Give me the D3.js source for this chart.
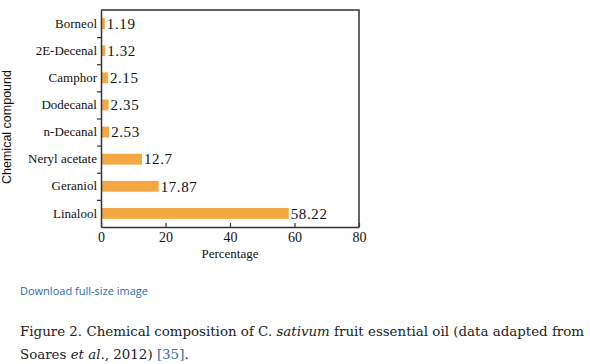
<!DOCTYPE html>
<html>
<head>
<meta charset="utf-8">
<script src="https://cdn.jsdelivr.net/npm/d3@7"></script>
<style>
  body { margin: 0; background: #fff; }
  svg { display: block; }
  .ax text { font-family: "Liberation Serif", "Times New Roman", serif; }
</style>
</head>
<body>
<svg id="chart" width="590" height="364"></svg>
<script>
// compounds top to bottom, percentages
const compounds = ["Borneol", "2E-Decenal", "Camphor", "Dodecanal", "n-Decanal", "Neryl acetate", "Geraniol", "Linalool"];
const percents = [1.19, 1.32, 2.15, 2.35, 2.53, 12.7, 17.87, 58.22];
const xTicks = [0, 20, 40, 60, 80];

const svg = d3.select("#chart");
const plotL = 101, plotR = 359, plotT = 10, plotB = 227;
const serif = "Liberation Serif, Times New Roman, serif";

const x = d3.scaleLinear().domain([0, 80]).range([plotL, plotR]);
const y = d3.scaleBand().domain(compounds).range([plotT, plotB])
  .paddingInner(0.6).paddingOuter(0.3);
// used only to put the little ticks between rows
const yEdge = d3.scaleLinear().domain([0, compounds.length]).range([plotT, plotB]);

const bars = compounds.map((c, i) => ({name: c, value: percents[i]}));

svg.selectAll("rect.bar")
  .data(bars)
  .enter()
  .append("rect")
  .attr("class", "bar")
  .attr("x", x(0))
  .attr("y", d => y(d.name))
  .attr("width", d => x(d.value) - x(0))
  .attr("height", y.bandwidth())
  .attr("fill", "#f4a844");

svg.selectAll("text.val")
  .data(bars)
  .enter()
  .append("text")
  .attr("class", "val")
  .attr("x", d => x(d.value) + 2)
  .attr("y", d => y(d.name) + y.bandwidth() / 2)
  .attr("dy", "0.35em")
  .attr("font-family", serif)
  .attr("font-size", 15)
  .attr("letter-spacing", 0.6)
  .attr("fill", "#111")
  .text(d => d.value);

// frame top + right
svg.append("path")
  .attr("d", `M${plotL},${plotT}H${plotR}V${plotB}`)
  .attr("fill", "none")
  .attr("stroke", "#333")
  .attr("stroke-width", 1.5);

// category labels
const yAxis = svg.append("g")
  .attr("class", "ax")
  .attr("transform", `translate(${plotL},0)`)
  .call(d3.axisLeft(y).tickSize(0).tickPadding(4))
  .attr("font-family", serif)
  .attr("font-size", 13);
yAxis.select(".domain").remove();
yAxis.selectAll("text").attr("fill", "#111");

// left axis line with ticks between rows
const yTickAxis = svg.append("g")
  .attr("transform", `translate(${plotL},0)`)
  .call(d3.axisLeft(yEdge).tickValues(d3.range(1, compounds.length)).tickFormat("").tickSizeInner(4).tickSizeOuter(0));
yTickAxis.select(".domain").attr("stroke", "#333").attr("stroke-width", 1.5);
yTickAxis.selectAll(".tick line").attr("stroke", "#333").attr("stroke-width", 1.2);

// bottom axis, ticks pointing inward
const xAxis = svg.append("g")
  .attr("class", "ax")
  .attr("transform", `translate(0,${plotB})`)
  .call(d3.axisBottom(x).tickValues(xTicks).tickSizeInner(-4).tickSizeOuter(0).tickPadding(5))
  .attr("font-family", serif)
  .attr("font-size", 14);
xAxis.select(".domain").attr("stroke", "#333").attr("stroke-width", 1.5);
xAxis.selectAll(".tick line").attr("stroke", "#333").attr("stroke-width", 1.2);
xAxis.selectAll("text").attr("fill", "#111");

svg.append("text")
  .attr("x", (plotL + plotR) / 2)
  .attr("y", 258)
  .attr("text-anchor", "middle")
  .attr("font-family", serif)
  .attr("font-size", 13)
  .attr("fill", "#111")
  .text("Percentage");

svg.append("text")
  .attr("transform", "translate(11,127) rotate(-90)")
  .attr("text-anchor", "middle")
  .attr("font-family", "Liberation Sans, Arial, sans-serif")
  .attr("font-size", 12.5)
  .attr("fill", "#111")
  .text("Chemical compound");

// page text below the figure
svg.append("text")
  .attr("x", 20)
  .attr("y", 295)
  .attr("font-family", "Open Sans, sans-serif")
  .attr("font-size", 11)
  .attr("fill", "#2b6cb0")
  .text("Download full-size image");

const capFont = "DejaVu Serif, serif";
const cap1 = svg.append("text")
  .attr("x", 20)
  .attr("y", 336)
  .attr("font-family", capFont)
  .attr("font-size", 13.4)
  .attr("fill", "#222");
cap1.append("tspan").text("Figure 2. Chemical composition of C. ");
cap1.append("tspan").attr("font-style", "italic").text("sativum");
cap1.append("tspan").text(" fruit essential oil (data adapted from");

const cap2 = svg.append("text")
  .attr("x", 20)
  .attr("y", 359)
  .attr("font-family", capFont)
  .attr("font-size", 13.4)
  .attr("fill", "#222");
cap2.append("tspan").text("Soares ");
cap2.append("tspan").attr("font-style", "italic").text("et al");
cap2.append("tspan").text("., 2012) ");
cap2.append("tspan").attr("fill", "#2b6cb0").text("[35]");
cap2.append("tspan").text(".");
</script>
</body>
</html>
